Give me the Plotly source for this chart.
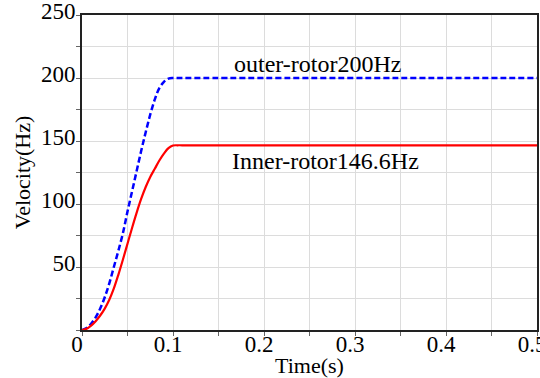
import plotly.graph_objects as go

time_s = [0, 0.005, 0.01, 0.015, 0.02, 0.025, 0.03, 0.035, 0.04, 0.045, 0.05,
          0.055, 0.06, 0.065, 0.07, 0.075, 0.08, 0.085, 0.09, 0.095, 0.1, 0.105, 0.11, 0.5]
outer_hz = [0, 1.5, 5, 10, 17, 26, 37, 50, 63, 77, 94,
            110, 126, 142, 157, 171, 183, 192, 197, 199.5, 200, 200, 200, 200]
inner_hz = [0, 1, 3.5, 7, 11.5, 17, 24, 33, 44, 56, 68.5,
            81, 93, 104, 113.5, 121.5, 128, 134.5, 140, 144.3, 146.4, 146.6, 146.6, 146.6]

x_ticks = [0, 0.1, 0.2, 0.3, 0.4, 0.5]
x_ticktext = ["0", "0.1", "0.2", "0.3", "0.4", "0.5"]
y_ticks = [50, 100, 150, 200, 250]

FONT = "Liberation Serif, Times New Roman, serif"

fig = go.Figure()
fig.add_trace(go.Scatter(x=time_s, y=outer_hz, mode="lines", line_shape="spline",
                         line=dict(color="#0000ff", width=2.5, dash="6px,3px"),
                         showlegend=False, cliponaxis=False))
fig.add_trace(go.Scatter(x=time_s, y=inner_hz, mode="lines", line_shape="spline",
                         line=dict(color="#ff0000", width=2.2),
                         showlegend=False, cliponaxis=False))

fig.add_annotation(x=0.165, y=211.5, text="outer-rotor200Hz", showarrow=False,
                   xanchor="left", yanchor="middle", font=dict(family=FONT, size=24, color="black"))
fig.add_annotation(x=0.163, y=134.5, text="Inner-rotor146.6Hz", showarrow=False,
                   xanchor="left", yanchor="middle", font=dict(family=FONT, size=24, color="black"))

axis_common = dict(showline=True, linecolor="#222222", linewidth=2, mirror=True,
                   ticks="outside", ticklen=4, tickcolor="#666666", tickwidth=1,
                   showgrid=True, gridcolor="#dcdcdc", gridwidth=1, zeroline=False,
                   ticklabeloverflow="allow", automargin=False,
                   tickfont=dict(family=FONT, size=23, color="black"))

fig.update_xaxes(range=[0, 0.5], tickvals=x_ticks, ticktext=x_ticktext,
                 ticklabelstandoff=-12, ticklabelshift=-5,
                 title=dict(text="Time(s)", font=dict(family=FONT, size=22, color="black"), standoff=2),
                 minor=dict(dtick=0.05, tick0=0, ticks="outside", ticklen=4, tickcolor="#666666",
                            showgrid=True, gridcolor="#dcdcdc", gridwidth=1),
                 **axis_common)
fig.update_yaxes(range=[0, 250], tickvals=y_ticks, ticklabelstandoff=-4, ticklabelshift=-4,
                 title=dict(text="Velocity(Hz)", font=dict(family=FONT, size=22, color="black"), standoff=4),
                 minor=dict(dtick=25, tick0=0, ticks="outside", ticklen=4, tickcolor="#666666",
                            showgrid=True, gridcolor="#dcdcdc", gridwidth=1),
                 **axis_common)

fig.update_layout(width=540, height=378, margin=dict(l=82, r=3, t=15, b=48),
                  paper_bgcolor="white", plot_bgcolor="white",
                  font=dict(family=FONT, size=22, color="black"))

fig.write_html("out.html")
